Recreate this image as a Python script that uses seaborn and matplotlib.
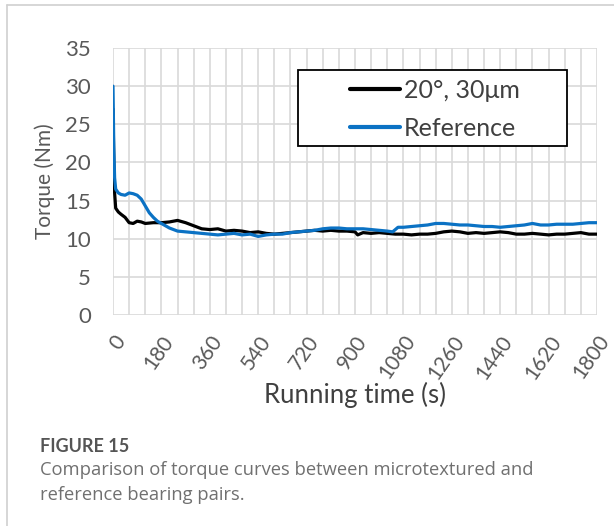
import numpy as np
import pandas as pd
import seaborn as sns
import matplotlib
matplotlib.use("Agg")
import matplotlib.pyplot as plt
from matplotlib.patches import Rectangle
from matplotlib.lines import Line2D

# ---- data ----
series_names = ["20°, 30μm", "Reference"]

t_black = [0, 3, 6, 10, 20, 30, 45, 60, 75, 90, 105, 120, 150, 180, 210, 240, 270, 300, 330,
           360, 390, 420, 450, 480, 510, 540, 570, 600, 630, 660, 690, 720, 750, 780, 810,
           840, 870, 900, 910, 930, 960, 990, 1020, 1050, 1080, 1110, 1140, 1170, 1200, 1230,
           1260, 1290, 1320, 1350, 1380, 1410, 1440, 1470, 1500, 1530, 1560, 1590, 1620, 1650,
           1680, 1710, 1740, 1770, 1800]
v_black = [27.0, 20.0, 16.0, 14.0, 13.5, 13.2, 12.8, 12.1, 12.0, 12.3, 12.2, 12.0, 12.1, 12.1,
           12.2, 12.4, 12.1, 11.7, 11.3, 11.2, 11.3, 11.0, 11.1, 11.0, 10.8, 10.9, 10.7, 10.6,
           10.7, 10.8, 10.9, 11.0, 11.1, 11.0, 11.1, 11.0, 11.0, 10.9, 10.5, 10.8, 10.7, 10.8,
           10.7, 10.6, 10.6, 10.5, 10.6, 10.6, 10.7, 10.9, 11.0, 10.9, 10.7, 10.8, 10.7, 10.8,
           10.9, 10.8, 10.6, 10.6, 10.7, 10.6, 10.5, 10.6, 10.6, 10.7, 10.8, 10.6, 10.6]

t_blue = [0, 3, 6, 10, 20, 30, 45, 60, 75, 90, 105, 120, 135, 150, 165, 180, 210, 240, 270, 300,
          330, 360, 390, 420, 450, 480, 510, 540, 570, 600, 630, 660, 690, 720, 750, 780, 810,
          840, 870, 900, 930, 960, 990, 1020, 1040, 1060, 1080, 1110, 1140, 1170, 1200, 1230,
          1260, 1290, 1320, 1350, 1380, 1410, 1440, 1470, 1500, 1530, 1560, 1590, 1620, 1650,
          1680, 1710, 1740, 1770, 1800]
v_blue = [30.0, 22.0, 18.0, 16.5, 16.0, 15.8, 15.7, 16.0, 15.9, 15.7, 15.2, 14.3, 13.4, 12.8,
          12.3, 12.0, 11.4, 11.0, 10.9, 10.8, 10.7, 10.6, 10.5, 10.6, 10.7, 10.5, 10.6, 10.3,
          10.5, 10.6, 10.6, 10.8, 10.9, 11.0, 11.1, 11.3, 11.4, 11.4, 11.3, 11.3, 11.3, 11.2,
          11.1, 11.0, 10.9, 11.5, 11.5, 11.6, 11.7, 11.8, 12.0, 12.0, 11.9, 11.8, 11.8, 11.7,
          11.6, 11.6, 11.5, 11.6, 11.7, 11.8, 12.0, 11.8, 11.8, 11.9, 11.9, 11.9, 12.0, 12.1,
          12.1]

x_ticks = [0, 180, 360, 540, 720, 900, 1080, 1260, 1440, 1620, 1800]
y_ticks = [0, 5, 10, 15, 20, 25, 30, 35]

df = pd.concat([
    pd.DataFrame({"time": t_black, "torque": v_black, "series": series_names[0]}),
    pd.DataFrame({"time": t_blue, "torque": v_blue, "series": series_names[1]}),
])

sns.set_theme(style="white")
plt.rcParams["font.family"] = ["Lato", "DejaVu Sans"]

W, H = 614, 526
fig = plt.figure(figsize=(W / 100, H / 100), dpi=100)
ax = fig.add_axes([113 / W, 1 - 315 / H, 484 / W, 267 / H])

palette = {series_names[0]: "#000000", series_names[1]: "#0B72C4"}
sns.lineplot(data=df, x="time", y="torque", hue="series", palette=palette,
             linewidth=2.3, ax=ax, legend=False, zorder=3)

ax.set_xlim(0, 1800)
ax.set_ylim(0, 35)
ax.set_xticks(x_ticks)
ax.set_xticks(np.arange(0, 1801, 60), minor=True)
ax.set_yticks(y_ticks)
ax.grid(True, which="both", color="#d9d9d9", linewidth=1.2, zorder=0)
ax.set_axisbelow(True)
for s in ax.spines.values():
    s.set_visible(False)
ax.tick_params(axis="both", which="both", length=0)
ax.tick_params(axis="y", labelsize=16, labelcolor="#595959", pad=16)
ax.tick_params(axis="x", labelsize=15, labelcolor="#595959", pad=12)
for lab in ax.get_xticklabels():
    lab.set_rotation(55)
    lab.set_ha("right")
    lab.set_va("top")
    lab.set_rotation_mode("anchor")

ax.set_xlabel("Running time (s)", fontsize=18.5, color="#404040", labelpad=-1)
ax.set_ylabel("Torque (Nm)", fontsize=15, color="#595959", labelpad=7)

# legend (text + handles), frame drawn separately in figure pixels
handles = [Line2D([0], [0], color=palette[n], lw=3) for n in series_names]
leg = ax.legend(handles, series_names, loc="upper left",
                bbox_to_anchor=((350 - 113) / 484, (315 - 79) / 267),
                fontsize=18, frameon=False, handlelength=2.0,
                handletextpad=0.15, borderpad=0.0, labelspacing=0.6,
                borderaxespad=0)
for txt in leg.get_texts():
    txt.set_color("#404040")
fig.add_artist(Rectangle((298 / W, 1 - 146 / H), (567 - 298) / W, (146 - 70) / H,
                         transform=fig.transFigure, fill=True, facecolor="white",
                         edgecolor="#000000", linewidth=1.3, zorder=2))
leg.set_zorder(5)
fig.add_artist(leg)

# figure frame lines
fig.add_artist(Line2D([7 / W, 7 / W], [0, 1 - 5 / H], color="#d0d0d0", lw=1.2,
                      transform=fig.transFigure))
fig.add_artist(Line2D([7 / W, 1], [1 - 5 / H, 1 - 5 / H], color="#d0d0d0", lw=1.2,
                      transform=fig.transFigure))

fig.text(40 / W, 1 - 452 / H, "FIGURE 15", fontsize=13, fontweight="bold",
         color="#555555", va="baseline", ha="left")
fig.text(40 / W, 1 - 475 / H, "Comparison of torque curves between microtextured and",
         fontsize=13.2, color="#707070", family=["Open Sans", "DejaVu Sans"],
         va="baseline", ha="left")
fig.text(40 / W, 1 - 500 / H, "reference bearing pairs.",
         fontsize=13.2, color="#707070", family=["Open Sans", "DejaVu Sans"],
         va="baseline", ha="left")

fig.savefig("out.png", dpi=100, facecolor="white")
